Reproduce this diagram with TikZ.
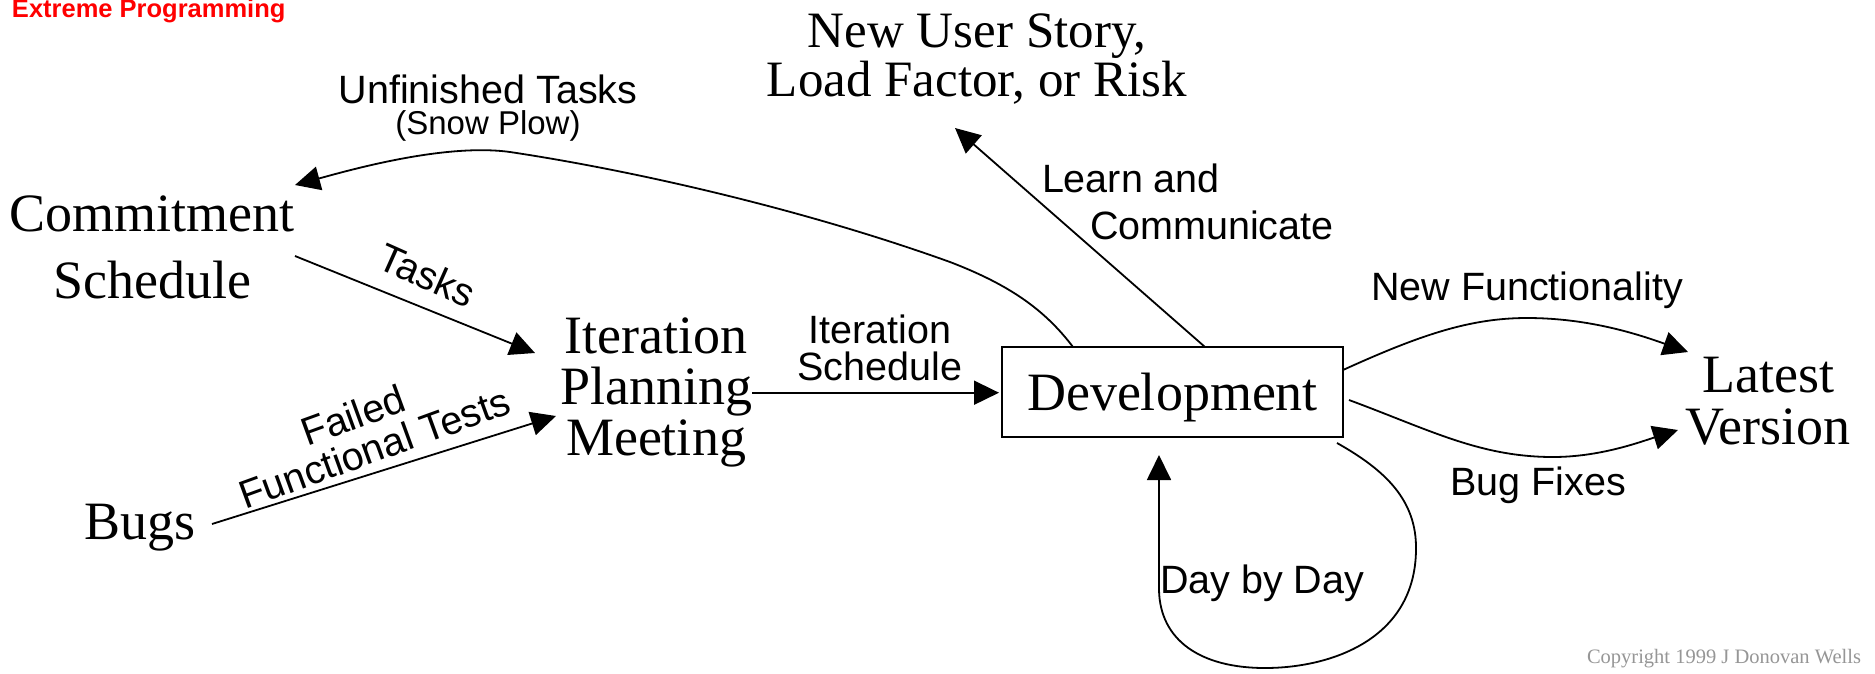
\documentclass[tikz,border=0pt]{standalone}
\usepackage{fontspec}
\setmainfont{Liberation Serif}
\setsansfont{Liberation Sans}
\usetikzlibrary{arrows.meta}
\definecolor{xpred}{RGB}{255,0,0}
\definecolor{notegray}{RGB}{150,150,150}
\begin{document}
\begin{tikzpicture}[x=1pt,y=-1pt,
  every node/.style={inner sep=0pt, outer sep=0pt},
  term/.style={align=center, anchor=north},
  lab/.style={font=\sffamily\fontsize{39.5}{40}\selectfont},
  flow/.style={line width=1.8pt, -{Triangle[length=25pt,width=24pt]}},
]
\fill[white] (0,0) rectangle (1875,673);
\useasboundingbox (0,0) rectangle (1875,673);

% header and footer
\node[anchor=base west, text=xpred, font=\sffamily\bfseries\fontsize{25.5}{26}\selectfont] (logo) at (12,17) {Extreme Programming};
\node[anchor=base west, text=notegray, font=\fontsize{20.5}{22}\selectfont] (copy) at (1587,663) {Copyright 1999 J Donovan Wells};

% activities and artifacts
\node[term, font=\fontsize{51}{49}\selectfont] (story) at (977,13.5) {New User Story,\\Load Factor, or Risk};
\node[term, font=\fontsize{54}{67}\selectfont] (commit) at (152,196) {Commitment\\Schedule};
\node[term, font=\fontsize{54}{51}\selectfont] (ipm) at (656,318) {Iteration\\Planning\\Meeting};
\node[anchor=base, font=\fontsize{54}{60}\selectfont] (bugs) at (140,539) {Bugs};
\node[draw, line width=2pt, minimum width=341pt, minimum height=90pt, text depth=0pt,
      font=\fontsize{54}{60}\selectfont] (dev) at (1172.5,392) {Development};
\node[term, font=\fontsize{54}{52}\selectfont] (latest) at (1768,357) {Latest\\Version};

% flows
\draw[flow] (ipm.east) -- ([xshift=-3pt]ipm.east -| dev.west);
\draw[flow] ([shift={(143,60)}]commit.north) -- ([shift={(-121,35)}]ipm.north);
\draw[flow] ([shift={(72,-15)}]bugs.base) -- ([shift={(-100,98)}]ipm.north);
\draw[flow] ([xshift=32.5pt]dev.north) -- ([shift={(-22,114.5)}]story.north);
\draw[flow] ([xshift=-99.5pt]dev.north) .. controls (1045,310) and (1010,285) .. (950,262)
  .. controls (800,208) and (630,170) .. (510,152)
  .. controls (445,143) and (350,170) .. ([shift={(143,-11)}]commit.north);
\draw[flow] ([yshift=22pt]dev.east) .. controls (1420,335) and (1470,318) .. (1527,318)
  .. controls (1590,318) and (1640,335) .. ([shift={(-80,-5)}]latest.north);
\draw[flow] ([shift={(6,8)}]dev.east) .. controls (1430,430) and (1480,457) .. (1553,457)
  .. controls (1600,457) and (1640,442) .. ([shift={(-90,73)}]latest.north);
\draw[flow] ([shift={(-6,6)}]dev.south east) .. controls (1385,470) and (1417,500) .. (1416,550)
  .. controls (1415,640) and (1330,668) .. (1265,668)
  .. controls (1200,668) and (1160,640) .. (1159,590) -- ([shift={(-13.5,18)}]dev.south);

% flow labels
\node[lab, anchor=north, align=center, font=\sffamily\fontsize{39.5}{31}\selectfont] (unfL) at (488,75)
  {Unfinished Tasks\\{\fontsize{33}{31}\selectfont(Snow Plow)}};
\node[lab, rotate=-24] (tasksL) at (427,275) {Tasks};
\node[lab, rotate=20, align=center, font=\sffamily\fontsize{39.5}{38}\selectfont] (failL) at (368,430)
  {Failed\hspace*{18pt}\\Functional Tests};
\node[lab, anchor=north, align=center, font=\sffamily\fontsize{39.5}{37}\selectfont] (itsL) at (880,315)
  {Iteration\\Schedule};
\node[lab, anchor=north west, align=left, font=\sffamily\fontsize{39.5}{47}\selectfont] (learnL) at (1042,164)
  {Learn and\\\hspace*{48pt}Communicate};
\node[lab, anchor=base] (newfL) at (1527,300) {New Functionality};
\node[lab, anchor=base] (bugfL) at (1538,495) {Bug Fixes};
\node[lab, anchor=base west] (dayL) at (1160,593) {Day by Day};
\end{tikzpicture}
\end{document}
